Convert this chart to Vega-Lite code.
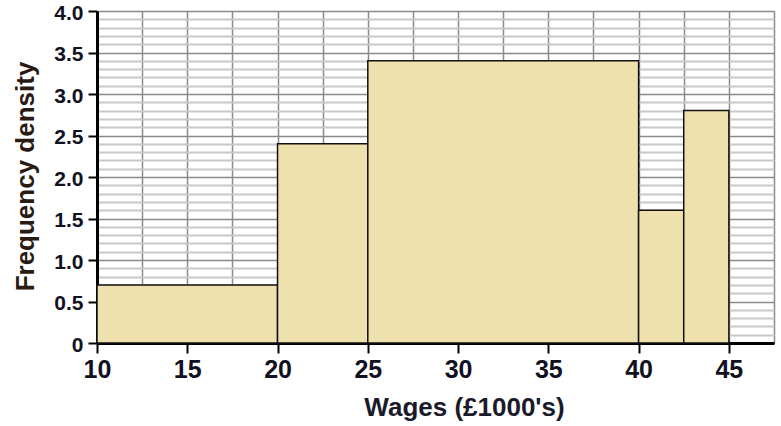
{
  "$schema": "https://vega.github.io/schema/vega-lite/v6.json",
  "width": 677,
  "height": 332,
  "autosize": "none",
  "padding": {"left": 97, "top": 11, "right": 7, "bottom": 83},
  "background": "white",
  "config": {
    "view": {"stroke": "#999999", "strokeWidth": 1},
    "font": "Liberation Sans"
  },
  "data": {
    "values": [
      {"start": 10, "end": 20, "density": 0.7},
      {"start": 20, "end": 25, "density": 2.4},
      {"start": 25, "end": 40, "density": 3.4},
      {"start": 40, "end": 42.5, "density": 1.6},
      {"start": 42.5, "end": 45, "density": 2.8}
    ]
  },
  "mark": {"type": "rect", "fill": "#EFE1AD", "stroke": "#111111", "strokeWidth": 1.5},
  "encoding": {
    "x": {
      "field": "start",
      "type": "quantitative",
      "scale": {"domain": [10, 47.5], "nice": false, "zero": false},
      "axis": {
        "title": "Wages (£1000's)",
        "values": [10, 12.5, 15, 17.5, 20, 22.5, 25, 27.5, 30, 32.5, 35, 37.5, 40, 42.5, 45, 47.5],
        "labelExpr": "round(datum.value*10) % 50 === 0 && datum.value <= 45 ? format(datum.value, 'd') : ''",
        "grid": true,
        "gridColor": "#8a8a8a",
        "gridWidth": 1.5,
        "domainColor": "#000000",
        "domainWidth": 3,
        "tickColor": {"condition": {"test": "round(datum.value*10) % 50 === 0 && datum.value <= 45", "value": "#000000"}, "value": "transparent"},
        "tickWidth": 2,
        "tickSize": 10,
        "labelFont": "Liberation Sans",
        "labelFontWeight": "bold",
        "labelFontSize": 25,
        "labelColor": "#111122",
        "labelPadding": 4,
        "labelFlush": false,
        "labelOverlap": false,
        "titleFont": "Liberation Sans",
        "titleFontWeight": "bold",
        "titleFontSize": 26,
        "titleColor": "#1a1a2a",
        "titleX": 367,
        "titleY": 72,
        "titleAlign": "center",
        "titleBaseline": "alphabetic"
      }
    },
    "x2": {"field": "end"},
    "y": {
      "field": "density",
      "type": "quantitative",
      "scale": {"domain": [0, 4], "nice": false},
      "axis": {
        "title": "Frequency density",
        "values": [0, 0.1, 0.2, 0.3, 0.4, 0.5, 0.6, 0.7, 0.8, 0.9, 1.0, 1.1, 1.2, 1.3, 1.4, 1.5, 1.6, 1.7, 1.8, 1.9, 2.0, 2.1, 2.2, 2.3, 2.4, 2.5, 2.6, 2.7, 2.8, 2.9, 3.0, 3.1, 3.2, 3.3, 3.4, 3.5, 3.6, 3.7, 3.8, 3.9, 4.0],
        "labelExpr": "datum.value === 0 ? '0' : (round(datum.value*10) % 5 === 0 ? format(datum.value, '.1f') : '')",
        "grid": true,
        "gridColor": {"condition": {"test": "round(datum.value*10) % 5 === 0", "value": "#8a8a8a"}, "value": "#c8c8c8"},
        "gridWidth": {"condition": {"test": "round(datum.value*10) % 5 === 0", "value": 1.5}, "value": 2},
        "domainColor": "#000000",
        "domainWidth": 3,
        "tickColor": {"condition": {"test": "round(datum.value*10) % 5 === 0", "value": "#000000"}, "value": "transparent"},
        "tickWidth": 2,
        "tickSize": 9,
        "labelFont": "Liberation Sans",
        "labelFontWeight": "bold",
        "labelFontSize": 21,
        "labelColor": "#111122",
        "labelPadding": 5,
        "labelOffset": 2,
        "labelFlush": false,
        "labelOverlap": false,
        "labelBaseline": "middle",
        "titleFont": "Liberation Sans",
        "titleFontWeight": "bold",
        "titleFontSize": 26,
        "titleColor": "#2a1a14",
        "titleX": -64,
        "titleY": 165,
        "titleAngle": -90,
        "titleAlign": "center",
        "titleBaseline": "alphabetic"
      }
    },
    "y2": {"datum": 0}
  }
}
